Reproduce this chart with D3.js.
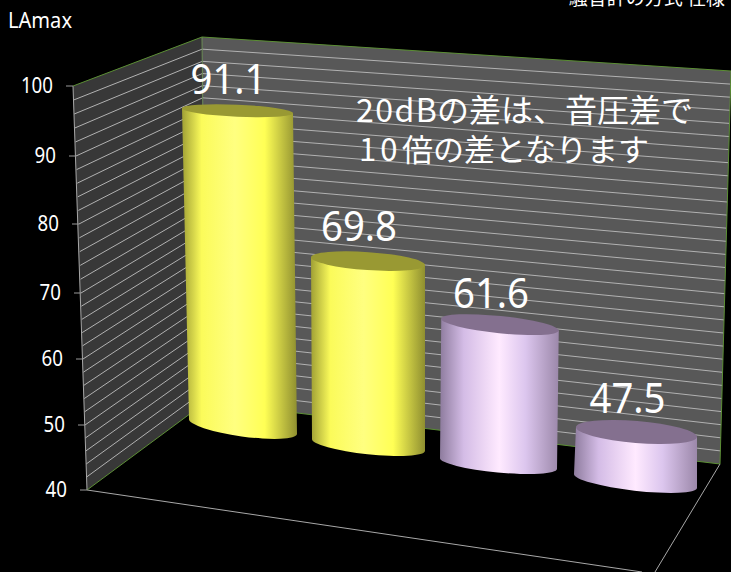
<!DOCTYPE html>
<html><head><meta charset="utf-8">
<script src="https://cdn.jsdelivr.net/npm/d3@7"></script>
<style>html,body{margin:0;padding:0;background:#000;overflow:hidden}svg{display:block}</style>
</head><body><svg id="c" width="731" height="572"></svg>
<script>
// ---- data ----
const categories = ["A", "B", "C", "D"];
const values = [91.1, 69.8, 61.6, 47.5];
const barKinds = ["yellow", "yellow", "purple", "purple"];
const yTicks = [40, 50, 60, 70, 80, 90, 100];
const axisTitle = "LAmax";
const noteLines = [["20dB", "の差は、音圧差で"], ["10", "倍の差となります"]];
const cutTitle = "騒音計の方式 仕様";

// ---- scales ----
const idx = [0, 1, 2, 3];
const yFront = d3.scaleLinear().domain(yTicks).range([490, 425, 359, 293, 224, 156, 86]);
const xFront = d3.scaleLinear().domain(yTicks).range([87, 85, 83, 81, 79, 76, 73]);
const yBackL = d3.scaleLinear().domain([40, 100]).range([402, 37]);
const xBackL = d3.scaleLinear().domain([40, 100]).range([206, 202]);
const yBackR = d3.scaleLinear().domain([40, 100]).range([464, 71]);
const xBackR = d3.scaleLinear().domain([40, 100]).range([720, 731]);
// bar projection, one step per category
const baseX = d3.scaleLinear().domain(idx).range([243, 368.5, 498.5, 635.5]);
const baseY = d3.scaleLinear().domain(idx).range([426.5, 445, 463.5, 481]);
const unitPx = d3.scaleLinear().domain(idx).range([6.18, 6.17, 6.43, 6.53]);
const topShift = d3.scaleLinear().domain(idx).range([-5.5, -0.5, 1.5, 1]);
const topW = d3.scaleLinear().domain(idx).range([111, 114, 117.5, 121]);
const botW = d3.scaleLinear().domain(idx).range([108, 113, 117, 123]);
const topTilt = d3.scaleLinear().domain(idx).range([5, 8, 12, 10]);
const botTilt = d3.scaleLinear().domain(idx).range([15, 12, 11, 14]);
const topRy = d3.scaleLinear().domain(idx).range([6, 9, 8.6, 11]);
const botRy = d3.scaleLinear().domain(idx).range([10, 9.2, 9, 9.7]);
const labelUp = d3.scaleLinear().domain(idx).range([16.5, 20, 16.5, 19]);

const svg = d3.select("#c");
const FONT = "'Noto Sans','Open Sans',sans-serif";
const CJK = "'Noto Sans CJK JP',sans-serif";
const defs = svg.append("defs");
const gradStops = {
  yellow: [[0,"#a0a035"],[.17,"#fbfb5a"],[.46,"#ffff80"],[.72,"#ffff55"],[1,"#8f8f30"]],
  purple: [[0,"#8e7c9e"],[.2,"#d4bce6"],[.5,"#ffeaff"],[.72,"#dcc6ee"],[1,"#9c88aa"]]
};
const lidColor = {yellow:"#999933", purple:"#84708f"};
Object.entries(gradStops).forEach(([k, st]) => {
  defs.append("linearGradient").attr("id", "g-" + k)
    .selectAll("stop").data(st).join("stop")
    .attr("offset", d => d[0]).attr("stop-color", d => d[1]);
});

// ---- walls ----
const poly = pts => "M" + pts.map(p => p.join(",")).join("L") + "Z";
const corner = { fT:[xFront(100),yFront(100)], fB:[xFront(40),yFront(40)],
  lT:[xBackL(100),yBackL(100)], lB:[xBackL(40),yBackL(40)],
  rT:[xBackR(100),yBackR(100)], rB:[xBackR(40),yBackR(40)] };
svg.append("path").attr("d", poly([corner.fT,corner.lT,corner.lB,corner.fB])).attr("fill","#383838");
svg.append("path").attr("d", poly([corner.lT,corner.rT,corner.rB,corner.lB])).attr("fill","#585858");

// ---- gridlines every 2 units ----
const gridVals = d3.range(42, 100, 2);
const grid = svg.append("g").attr("stroke","#b2b2b2").attr("stroke-width",1).attr("fill","none");
grid.selectAll("path").data(gridVals).join("path")
  .attr("d", v => `M${xFront(v)},${yFront(v)}L${xBackL(v)},${yBackL(v)}L${xBackR(v)},${yBackR(v)}`);

// ---- edges ----
const seg = (a,b,c) => svg.append("line").attr("x1",a[0]).attr("y1",a[1]).attr("x2",b[0]).attr("y2",b[1]).attr("stroke",c).attr("stroke-width",1);
const GREEN="#5c8f35", GREY="#a8a8a8";
seg(corner.fT,corner.fB,GREY);
seg(corner.lT,corner.lB,"#6f8f5a");
seg(corner.fT,corner.lT,GREEN);
seg(corner.lT,corner.rT,GREEN);
seg(corner.rT,corner.rB,GREEN);
seg(corner.fB,corner.lB,GREEN);
seg(corner.lB,corner.rB,GREEN);
seg(corner.fB,[642,572],GREY);
seg(corner.rB,[655,572],GREY);

// ---- axis ----
const axis = svg.append("g").call(d3.axisLeft(yFront).tickValues(yTicks).tickSize(7).tickPadding(13).tickFormat(d3.format("d")));
axis.select(".domain").remove();
axis.selectAll(".tick").attr("transform", d => `translate(${xFront(d)},${yFront(d)})`);
axis.selectAll(".tick line").attr("stroke","#9a9a9a");
axis.selectAll(".tick text").attr("fill","#fff").attr("font-family",FONT).attr("font-size",21)
  .attr("textLength", d => String(d).length*10.7).attr("lengthAdjust","spacingAndGlyphs");
svg.append("text").attr("x",8).attr("y",28).attr("fill","#fff").attr("font-family",FONT).attr("font-size",22)
  .attr("textLength",64).attr("lengthAdjust","spacingAndGlyphs").text(axisTitle);

// ---- cylinders ----
const bars = categories.map((c,i) => {
  const v = values[i];
  const cxB = baseX(i), cyB = baseY(i);
  const cxT = cxB + topShift(i), cyT = cyB - (v-40)*unitPx(i);
  return {i, v, kind:barKinds[i], cxB, cyB, cxT, cyT, wT:topW(i), wB:botW(i), tT:topTilt(i), tB:botTilt(i), rT:topRy(i), rB:botRy(i)};
});
const gb = svg.append("g");
bars.forEach(b => {
  const aT = Math.atan2(b.tT, b.wT)*180/Math.PI, aB = Math.atan2(b.tB, b.wB)*180/Math.PI;
  const rxT = Math.hypot(b.wT,b.tT)/2, rxB = Math.hypot(b.wB,b.tB)/2;
  const tl=[b.cxT-b.wT/2,b.cyT-b.tT/2], tr=[b.cxT+b.wT/2,b.cyT+b.tT/2];
  const bl=[b.cxB-b.wB/2,b.cyB-b.tB/2], br=[b.cxB+b.wB/2,b.cyB+b.tB/2];
  gb.append("path")
    .attr("d",`M${tl}L${bl}A${rxB},${b.rB} ${aB} 0 0 ${br}L${tr}Z`)
    .attr("fill",`url(#g-${b.kind})`);
  gb.append("ellipse").attr("cx",b.cxT).attr("cy",b.cyT).attr("rx",rxT).attr("ry",b.rT)
    .attr("transform",`rotate(${aT} ${b.cxT} ${b.cyT})`).attr("fill",lidColor[b.kind]);
});

// ---- value labels ----
svg.append("g").selectAll("text").data(bars).join("text")
  .attr("x", b => b.cxT-9).attr("y", b => b.cyT-labelUp(b.i))
  .attr("text-anchor","middle").attr("fill","#fff").attr("font-family",FONT)
  .attr("font-size",41).attr("textLength",76).attr("lengthAdjust","spacingAndGlyphs").text(b => b.v.toFixed(1));

// ---- note ----
const note = svg.append("g").attr("fill","#fff").attr("font-family",CJK);
note.selectAll("text").data(noteLines).join("text")
  .attr("y",(d,i)=>122+i*39).attr("font-size",(d,i)=>i?31:32)
  .each(function(d,i){
    const t = d3.select(this);
    t.append("tspan").attr("x",356+(i?3:0)).attr("letter-spacing",i?4:1.5).text(d[0]);
    t.append("tspan").attr("x",i?402:437).text(d[1]);
  });
svg.append("text").attr("x",725).attr("y",5).attr("text-anchor","end").attr("fill","#fff")
  .attr("font-family",CJK).attr("font-size",19).text(cutTitle);
</script></body></html>
